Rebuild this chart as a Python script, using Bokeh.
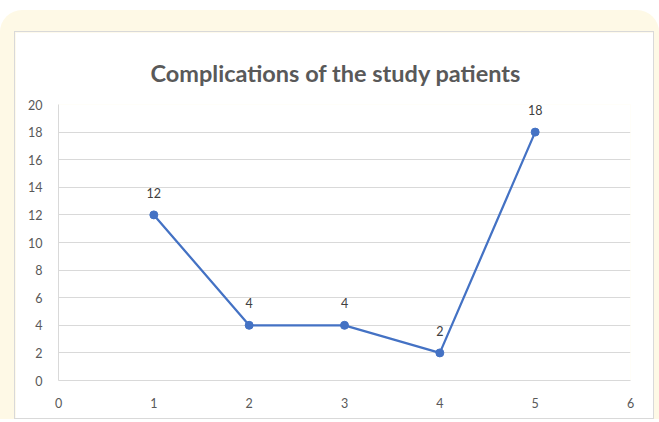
from bokeh.plotting import figure
from bokeh.models import ColumnDataSource, FixedTicker, Range1d, LabelSet
from bokeh.core.properties import value
from bokeh.layouts import column
from bokeh.embed import file_html
from bokeh.resources import INLINE

x_vals = [1, 2, 3, 4, 5]
complications = [12, 4, 4, 2, 18]
labels = ["12", "4", "4", "2", "18"]
x_ticks = [0, 1, 2, 3, 4, 5, 6]
y_ticks = [0, 2, 4, 6, 8, 10, 12, 14, 16, 18, 20]
title_text = "Complications of the study patients"

src = ColumnDataSource(dict(x=x_vals, y=complications, lab=labels))

p = figure(width=640, height=388, output_backend="svg", toolbar_location=None,
           x_range=Range1d(0, 6), y_range=Range1d(0, 20),
           min_border_left=43, min_border_right=25, min_border_top=72, min_border_bottom=40,
           margin=(0, 5, 0, 14),
           styles={"border": "1px solid #d9d9d9"})
p.title.text = title_text
p.title.text_font = "Lato"
p.title.text_font_size = "23.5px"
p.title.text_font_style = "bold"
p.title.text_color = "#595959"
p.title.align = "left"
p.title.offset = 92
p.title.standoff = 35

p.background_fill_color = "white"
p.border_fill_color = "white"
p.outline_line_color = None

p.xaxis.ticker = FixedTicker(ticks=x_ticks)
p.yaxis.ticker = FixedTicker(ticks=y_ticks)
for ax in (p.xaxis[0], p.yaxis[0]):
    ax.axis_line_color = "#d9d9d9"
    ax.major_tick_line_color = None
    ax.minor_tick_line_color = None
    ax.major_label_text_font = "Lato"
    ax.major_label_text_font_size = "12.5px"
    ax.major_label_text_color = "#595959"
p.xaxis.major_label_standoff = 11
p.yaxis.major_label_standoff = 10

p.xgrid.grid_line_color = None
p.ygrid.grid_line_color = "#d9d9d9"
p.ygrid.grid_line_width = 1

p.line("x", "y", source=src, line_color="#4472C4", line_width=2.25)
p.scatter("x", "y", source=src, size=8, fill_color="#4472C4", line_color="#4472C4")

ls = LabelSet(x="x", y="y", text="lab", source=src, text_align="center",
              text_baseline="middle", y_offset=22, text_font=value("Lato"),
              text_font_size="12.5px", text_color="#404040")
p.add_layout(ls)

layout = column(p, margin=(10, 0, 0, 0),
                styles={"background-color": "#fef9e6", "border-radius": "22px 22px 0 0",
                        "padding-top": "21px"})

open("out.html", "w").write(file_html(layout, INLINE))
